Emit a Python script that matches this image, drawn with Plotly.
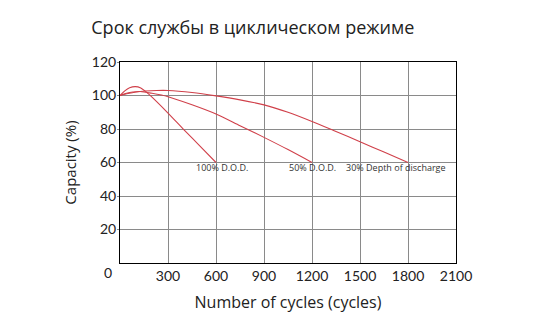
import plotly.graph_objects as go

# Data
cycles_100 = [0, 30, 60, 95, 130, 165, 200, 300, 400, 500, 600]
cap_100 = [100, 102.8, 104.6, 105.3, 104.5, 102, 99, 89.5, 79.5, 69.8, 60]

cycles_50 = [0, 40, 80, 125, 200, 300, 450, 600, 750, 900, 1050, 1200]
cap_50 = [100, 101.3, 102.1, 102.4, 101.3, 99.3, 94.5, 89, 82, 75, 67.7, 60]

cycles_30 = [0, 50, 100, 160, 230, 300, 450, 600, 750, 900, 1050, 1200, 1350, 1500, 1650, 1800]
cap_30 = [100, 101.2, 102.1, 102.7, 103, 103, 101.8, 99.8, 97.4, 94.4, 90, 84.5, 78.5, 72.4, 66.2, 60]

x_ticks = [300, 600, 900, 1200, 1500, 1800, 2100]
y_ticks = [20, 40, 60, 80, 100, 120]

series_labels = ["100% D.O.D.", "50% D.O.D.", "30% Depth of discharge"]
label_x = [465, 1045, 1400]

title = "Срок службы в циклическом режиме"
x_title = "Number of cycles (cycles)"
y_title = "Capacity (%)"

FONT = "Lato"
TFONT = "Open Sans"
RED = "#d0404a"

fig = go.Figure()
for xs, ys, name in [(cycles_100, cap_100, series_labels[0]),
                     (cycles_50, cap_50, series_labels[1]),
                     (cycles_30, cap_30, series_labels[2])]:
    fig.add_trace(go.Scatter(x=xs, y=ys, mode="lines", name=name,
                             line=dict(color=RED, width=1.1, shape="spline", smoothing=0.8),
                             showlegend=False, hoverinfo="skip"))

annotations = []
for lx, txt in zip(label_x, series_labels):
    annotations.append(dict(x=lx, y=57.3, xref="x", yref="y", text=txt, showarrow=False,
                            xanchor="left", yanchor="middle",
                            font=dict(family=TFONT, size=9, color="#333333")))
# corner zero label
annotations.append(dict(x=-0.035, y=-0.045, xref="paper", yref="paper", text="0", showarrow=False,
                        xanchor="center", yanchor="middle",
                        font=dict(family=FONT, size=14, color="#222222")))

fig.update_layout(
    width=552, height=320,
    margin=dict(l=120, r=96, t=62, b=57),
    paper_bgcolor="white", plot_bgcolor="white",
    title=dict(text=title, x=0.458, xanchor="center", y=0.915, yanchor="middle",
               font=dict(family=TFONT, size=18, color="#222222")),
    annotations=annotations,
    xaxis=dict(range=[0, 2100], tickvals=x_ticks, ticktext=[str(v) for v in x_ticks],
               showgrid=True, gridcolor="#8a8a8a", gridwidth=1,
               showline=True, linecolor="black", linewidth=1, mirror=True,
               ticks="", zeroline=False,
               tickfont=dict(family=FONT, size=14, color="#222222"),
               title=dict(text=x_title, standoff=14,
                          font=dict(family=TFONT, size=16, color="#222222"))),
    yaxis=dict(range=[0, 120], tickvals=y_ticks, ticktext=[str(v) for v in y_ticks],
               showgrid=True, gridcolor="#8a8a8a", gridwidth=1,
               showline=True, linecolor="black", linewidth=1, mirror=True,
               ticks="outside", ticklen=2, tickcolor="#8a8a8a", zeroline=False,
               ticklabelstandoff=-2,
               tickfont=dict(family=FONT, size=14, color="#222222"),
               title=dict(text=y_title, standoff=11,
                          font=dict(family=TFONT, size=15, color="#222222"))),
)

fig.write_html("out.html")
